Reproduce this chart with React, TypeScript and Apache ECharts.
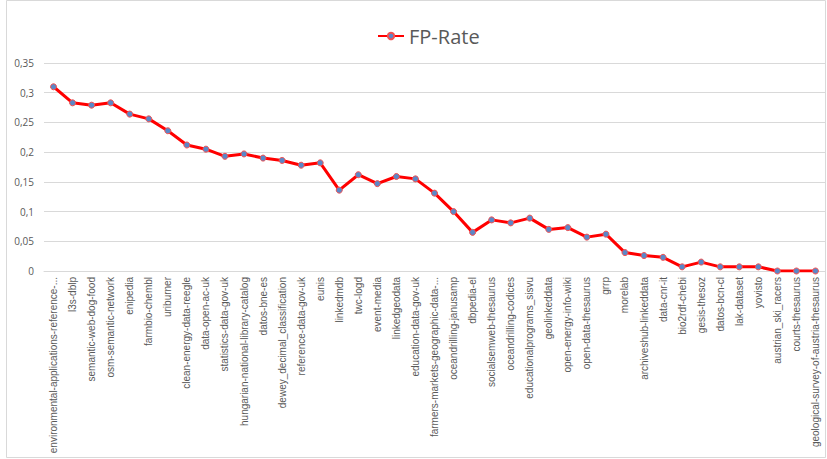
import React, { useEffect, useRef } from "react";
import * as echarts from "echarts";

const categories = [
  "environmental-applications-reference-...",
  "l3s-dblp",
  "semantic-web-dog-food",
  "osm-semantic-network",
  "enipedia",
  "farmbio-chembl",
  "uriburner",
  "clean-energy-data-reegle",
  "data-open-ac-uk",
  "statistics-data-gov-uk",
  "hungarian-national-library-catalog",
  "datos-bne-es",
  "dewey_decimal_classification",
  "reference-data-gov-uk",
  "eunis",
  "linkedmdb",
  "twc-logd",
  "event-media",
  "linkedgeodata",
  "education-data-gov-uk",
  "farmers-markets-geographic-data-...",
  "oceandrilling-janusamp",
  "dbpedia-el",
  "socialsemweb-thesaurus",
  "oceandrilling-codices",
  "educationalprograms_sisvu",
  "geolinkeddata",
  "open-energy-info-wiki",
  "open-data-thesaurus",
  "grrp",
  "morelab",
  "archiveshub-linkeddata",
  "data-cnr-it",
  "bio2rdf-chebi",
  "gesis-thesoz",
  "datos-bcn-cl",
  "lak-dataset",
  "yovisto",
  "austrian_ski_racers",
  "courts-thesaurus",
  "geological-survey-of-austria-thesaurus",
];

const fpRate = [
  0.31, 0.283, 0.279, 0.283, 0.264, 0.256, 0.236, 0.212, 0.205, 0.193,
  0.197, 0.19, 0.186, 0.178, 0.182, 0.136, 0.162, 0.147, 0.159, 0.155,
  0.131, 0.1, 0.065, 0.086, 0.081, 0.089, 0.07, 0.073, 0.057, 0.062,
  0.031, 0.026, 0.023, 0.007, 0.015, 0.007, 0.007, 0.007, 0, 0, 0,
];

const seriesName = "FP-Rate";

export default function App() {
  const ref = useRef<HTMLDivElement>(null);
  useEffect(() => {
    if (!ref.current) return;
    const chart = echarts.init(ref.current, null, { renderer: "svg" });
    chart.setOption({
      animation: false,
      backgroundColor: "#ffffff",
      textStyle: { fontFamily: "Open Sans" },
      graphic: [
        {
          type: "rect",
          shape: { x: 6.5, y: 0.5, width: 819, height: 457 },
          style: { fill: "none", stroke: "#D9D9D9", lineWidth: 1 },
          silent: true,
        },
      ],
      legend: {
        top: 21,
        left: 372,
        itemWidth: 26,
        itemHeight: 8,
        itemGap: 10,
        textStyle: { fontSize: 20, color: "#595959", fontFamily: "Open Sans" },
        data: [seriesName],
      },
      grid: { left: 44, right: 2, top: 63, bottom: 188, containLabel: false },
      xAxis: {
        type: "category",
        data: categories,
        boundaryGap: true,
        axisLine: { lineStyle: { color: "#D9D9D9" } },
        axisTick: { show: false },
        axisLabel: {
          rotate: 90,
          interval: 0,
          fontSize: 10,
          color: "#595959",
          fontFamily: "Liberation Sans",
          margin: 6,
        },
      },
      yAxis: {
        type: "value",
        min: 0,
        max: 0.35,
        interval: 0.05,
        axisLine: { show: false },
        axisTick: { show: false },
        splitLine: { lineStyle: { color: "#D9D9D9" } },
        axisLabel: {
          fontSize: 10,
          color: "#595959",
          margin: 10,
          formatter: (v: number) => String(Math.round(v * 100) / 100).replace(".", ","),
        },
      },
      series: [
        {
          name: seriesName,
          type: "line",
          data: fpRate,
          symbol: "circle",
          symbolSize: 6,
          lineStyle: { color: "#FF0000", width: 3 },
          itemStyle: { color: "#5B87C7", borderColor: "#F25050", borderWidth: 1 },
        },
      ],
    });
    return () => chart.dispose();
  }, []);
  return (
    <div
      ref={ref}
      style={{ position: "absolute", left: 0, top: 0, width: 827, height: 459 }}
    />
  );
}
